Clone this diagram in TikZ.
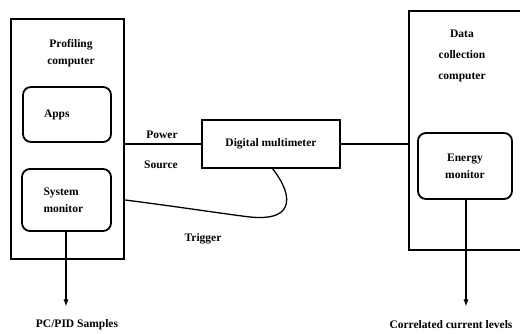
\documentclass[tikz,border=0pt]{standalone}
\usepackage{fontspec}
\setmainfont{Liberation Serif}
\usetikzlibrary{positioning}

\begin{document}
\begin{tikzpicture}
[
	x=1pt,y=-1pt,
	font=\fontsize{11.5}{17}\selectfont\bfseries,
	outerbox/.style={draw,line width=2.4pt,inner sep=0pt},
	innerbox/.style={draw,line width=1.8pt,rounded corners=8pt,inner sep=0pt},
	wire/.style={line width=1.3pt},
	lbl/.style={inner sep=0pt,align=center}
]
	\useasboundingbox (0,0) rectangle (520,333);

	% the two computers
	\node[outerbox,minimum width=113pt,minimum height=240pt] (pc) at (67.5,139) {};
	\node[lbl] (pctitle) at (71,53.5) {Profiling\\computer};
	\node[outerbox,minimum width=114pt,minimum height=239pt] (dc) at (466,130.5) {};
	\node[lbl,font=\fontsize{11.5}{21}\selectfont\bfseries] (dctitle) at (462,56) {Data\\collection\\computer};

	% boxes inside
	\node[innerbox,minimum width=88pt,minimum height=55pt,text width=46pt,align=left] (apps) at (67,114.5) {Apps};
	\node[innerbox,minimum width=89pt,minimum height=62pt,text width=46pt,align=left] (sm) at (66.5,200) {System\\monitor};
	\node[innerbox,minimum width=94pt,minimum height=66pt,align=center] (em) at (465,166) {Energy\\monitor};

	% meter in the middle
	\node[outerbox,line width=2pt,minimum width=138pt,minimum height=48pt] (dmm) at (271,144) {Digital multimeter};

	% wiring
	\draw[wire] (dmm.west -| pc.east) -- (dmm.west);
	\draw[wire] (dmm.east) -- (dmm.east -| dc.west);
	\node[lbl] (power) at (162,135) {Power};
	\node[lbl] (source) at (161,165) {Source};

	\coordinate (trigin) at (272,168);
	\draw[wire] (sm.east -| pc.east) .. controls (180,207) and (225,214) .. (250,217)
	  .. controls (300,222) and (290,190) .. (trigin);
	\node[lbl] (trigger) at (203,239) {Trigger};

	% outputs
	\node[lbl] (pcpid) at (77,325) {PC/PID Samples};
	\node[lbl] (levels) at (451,325) {Correlated current levels};
	\coordinate (pcend) at (66,306);
	\coordinate (emend) at (466,306);
	\draw[wire,-latex] (sm.south -| pcend) -- (pcend);
	\draw[wire,-latex] (em.south -| emend) -- (emend);

\end{tikzpicture}
\end{document}
